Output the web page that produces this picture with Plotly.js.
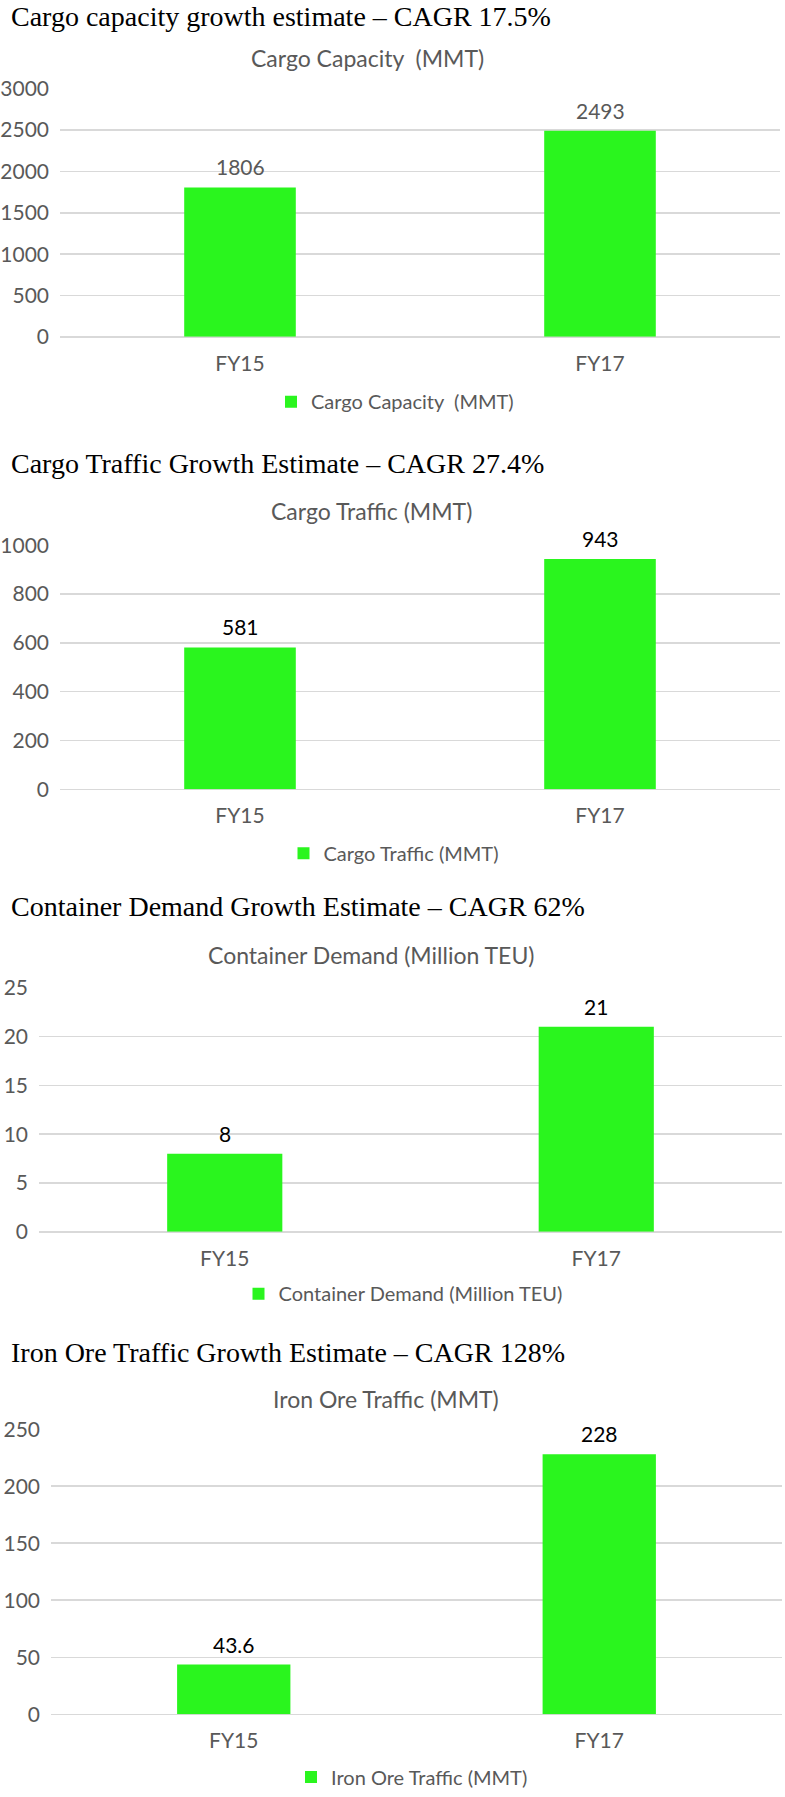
<!DOCTYPE html>
<html>
<head>
<meta charset="utf-8">
<script src="https://cdn.plot.ly/plotly-3.0.1.min.js"></script>
<style>
  html, body { margin: 0; padding: 0; background: #fff; }
  #myDiv { width: 785px; height: 1797px; }
</style>
</head>
<body>
<div id="myDiv"></div>
<script>
// data
var categories = ['FY15', 'FY17'];
var capacityValues = [1806, 2493];
var trafficValues = [581, 943];
var containerValues = [8, 21];
var ironOreValues = [43.6, 228];

var sectionTitles = [
  'Cargo capacity growth estimate \u2013 CAGR 17.5%',
  'Cargo Traffic Growth Estimate \u2013 CAGR 27.4%',
  'Container Demand Growth Estimate \u2013 CAGR 62%',
  'Iron Ore Traffic Growth Estimate \u2013 CAGR 128%'
];
var seriesNames = [
  'Cargo Capacity  (MMT)',
  'Cargo Traffic (MMT)',
  'Container Demand (Million TEU)',
  'Iron Ore Traffic (MMT)'
];
var yMax = [3000, 1000, 25, 250];
var yStep = [500, 200, 5, 50];

var W = 785, H = 1797;
var GREEN = '#2af51e';
var GREY = '#595959';
var GRID = '#d9d9d9';
var SANS = 'Lato, "Noto Sans", sans-serif';
var SERIF = '"Liberation Serif", "Times New Roman", serif';

function px(x) { return x / W; }
function py(y) { return 1 - y / H; }

// pixel layout of each panel
var panels = [
  {x0: 60, x1: 780, top: 89, bottom: 338, head: 17, title: 58, titleX: 367, legY: 403, legX: 395, labelColor: GREY},
  {x0: 60, x1: 780, top: 547, bottom: 792, head: 465, title: 513, titleX: 371, legY: 856, legX: 394, labelColor: '#000'},
  {x0: 39, x1: 782, top: 991, bottom: 1236, head: 910, title: 958, titleX: 371, legY: 1298, legX: 403, labelColor: '#000'},
  {x0: 51, x1: 782, top: 1434, bottom: 1720, head: 1357, title: 1404, titleX: 386, legY: 1783, legX: 412, labelColor: '#000'}
];
var allValues = [capacityValues, trafficValues, containerValues, ironOreValues];

var data = [];
var layout = {
  width: W, height: H,
  margin: {l: 0, r: 0, t: 0, b: 0},
  paper_bgcolor: '#fff',
  plot_bgcolor: '#fff',
  showlegend: true,
  annotations: []
};

panels.forEach(function (p, i) {
  var n = i === 0 ? '' : String(i + 1);
  var xa = 'x' + n, ya = 'y' + n;
  var legName = 'legend' + n;

  data.push({
    type: 'bar',
    x: categories,
    y: allValues[i],
    name: seriesNames[i],
    xaxis: xa, yaxis: ya,
    legend: legName,
    width: 0.31,
    marker: {color: GREEN},
    hoverinfo: 'x+y'
  });

  layout['xaxis' + n] = {
    domain: [px(p.x0), px(p.x1)],
    anchor: ya,
    type: 'category',
    showgrid: false,
    zeroline: false,
    showline: false,
    ticks: '',
    ticklabelstandoff: 12,
    tickfont: {family: SANS, size: 21, color: GREY},
    fixedrange: true
  };
  layout['yaxis' + n] = {
    domain: [py(p.bottom), py(p.top)],
    anchor: xa,
    range: [0, yMax[i]],
    dtick: yStep[i],
    showgrid: true,
    gridcolor: GRID,
    gridwidth: 1.5,
    zeroline: true,
    zerolinecolor: GRID,
    zerolinewidth: 1.5,
    showline: false,
    ticks: '',
    ticklabelstandoff: 10,
    tickfont: {family: SANS, size: 21, color: GREY},
    fixedrange: true
  };
  layout[legName] = {
    x: px(p.legX), xanchor: 'center',
    y: py(p.legY), yanchor: 'middle',
    orientation: 'h',
    font: {family: SANS, size: 20, color: GREY},
    itemwidth: 30
  };

  // section heading
  layout.annotations.push({
    xref: 'paper', yref: 'paper',
    x: px(9), y: py(p.head),
    xanchor: 'left', yanchor: 'middle',
    text: sectionTitles[i],
    showarrow: false,
    font: {family: SERIF, size: 28, color: '#000'}
  });
  // chart title
  layout.annotations.push({
    xref: 'paper', yref: 'paper',
    x: px(p.titleX), y: py(p.title),
    xanchor: 'center', yanchor: 'middle',
    text: seriesNames[i],
    showarrow: false,
    font: {family: SANS, size: 23, color: GREY}
  });
  // value labels
  categories.forEach(function (c, j) {
    layout.annotations.push({
      xref: xa, yref: ya,
      x: c, y: allValues[i][j],
      xanchor: 'center', yanchor: 'bottom',
      yshift: 6,
      text: String(allValues[i][j]),
      showarrow: false,
      font: {family: SANS, size: 21, color: p.labelColor}
    });
  });
});

Plotly.newPlot('myDiv', data, layout, {displayModeBar: false, staticPlot: true});
</script>
</body>
</html>
